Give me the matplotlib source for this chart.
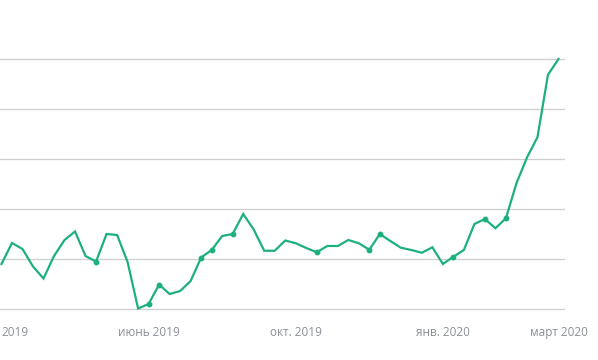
import matplotlib
matplotlib.use("Agg")
import matplotlib.pyplot as plt

# weekly values, mar 2019 - mar 2020
values = [18, 26.4, 24, 17, 12.2, 21.2, 27.6, 31, 21.2, 19,
          30, 29.6, 18.8, 0.2, 2, 9.8, 6, 7.2, 11.2, 20.6,
          23.6, 29.2, 30, 38, 31.8, 23.3, 23.3, 27.4, 26.3, 24.4,
          22.7, 25.2, 25.2, 27.6, 26.3, 23.7, 30, 27.2, 24.5, 23.6,
          22.5, 24.7, 18, 20.9, 23.6, 34, 36, 32.3, 36.3, 50.3,
          60.6, 68.7, 93.7, 100]
marked = [9, 14, 15, 19, 20, 22, 30, 35, 36, 43, 46, 48]
tick_idx = [0, 14, 28, 42, 53]
tick_labels = ["2019", "июнь 2019", "окт. 2019", "янв. 2020", "март 2020"]

GREEN = "#1db07e"
W, H = 598, 360

fig = plt.figure(figsize=(W / 100, H / 100), dpi=100)
# axes from x=0..565 px, y=54..314 px
ax = fig.add_axes([0, (H - 314) / H, 565 / W, 260 / H])

x = list(range(len(values)))
ax.plot(x, values, color=GREEN, lw=1.6, solid_joinstyle="miter", clip_on=False, zorder=3)
ax.plot(marked, [values[i] for i in marked], "o", color=GREEN, ms=3.2, zorder=4)

ax.set_xlim(-0.14, 53.62)
ax.set_ylim(-2, 102)
ax.set_yticks([0, 20, 40, 60, 80, 100])
ax.yaxis.grid(True, color="#cfcfcf", lw=0.9)
ax.set_axisbelow(True)
ax.tick_params(axis="y", left=False, labelleft=False)

ax.set_xticks(tick_idx)
ax.set_xticklabels(tick_labels, fontsize=8.5, color="#8a8f98", family="Open Sans")
ax.tick_params(axis="x", length=0, pad=8.5)
# first label sits at the left edge
ax.get_xticklabels()[0].set_horizontalalignment("left")

for s in ax.spines.values():
    s.set_visible(False)

fig.savefig("out.png", dpi=100)
